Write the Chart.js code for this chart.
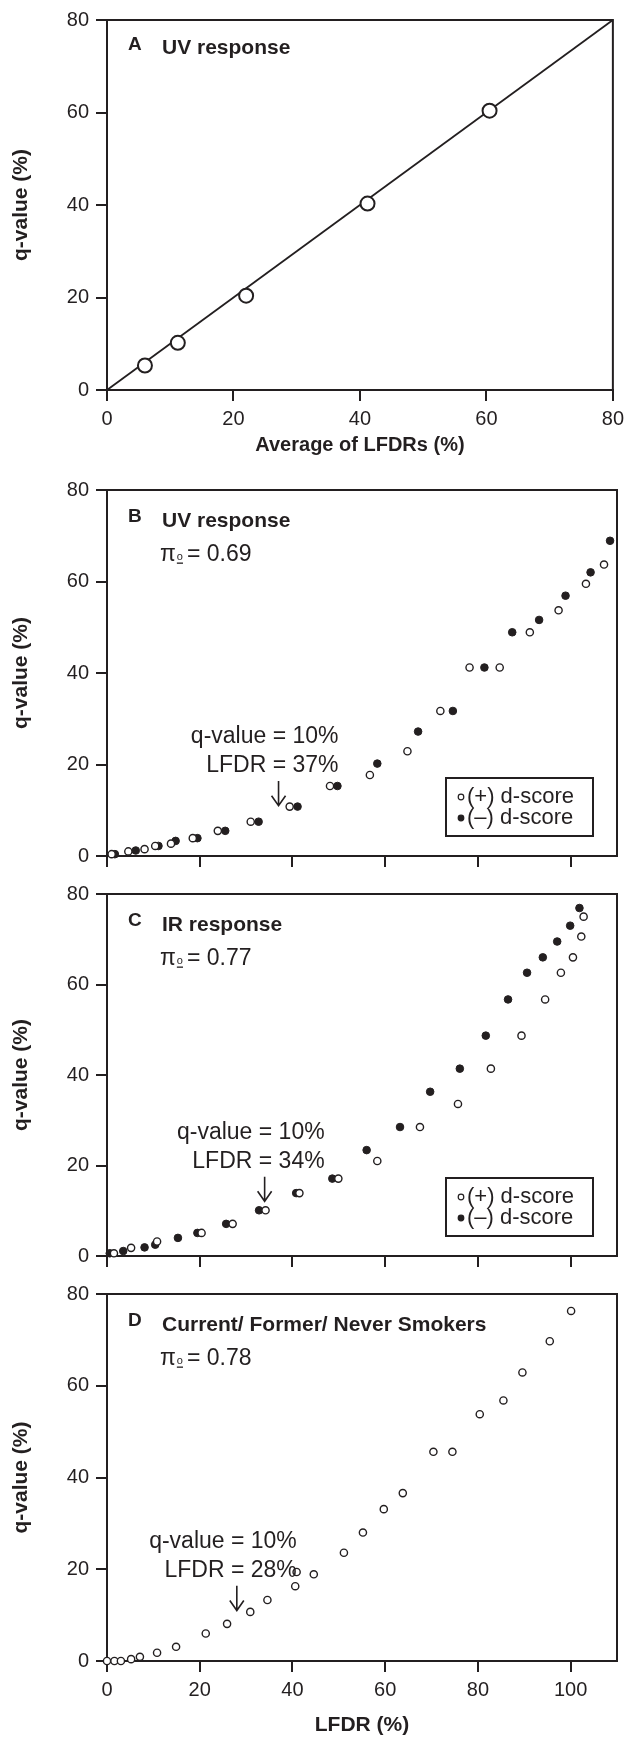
<!DOCTYPE html>
<html>
<head>
<meta charset="utf-8">
<title>q-value vs LFDR</title>
<script src="https://cdn.jsdelivr.net/npm/chart.js@4.4.0/dist/chart.umd.min.js"></script>
<style>
    body { margin: 0; background: #fff; }
    #wrap { position: relative; width: 630px; height: 1738px; }
    #wrap canvas { position: absolute; left: 0; }
</style>
</head>
<body>
<div id="wrap">
    <canvas id="chartA" width="630" height="460" style="top:0px"></canvas>
    <canvas id="chartB" width="630" height="415" style="top:460px"></canvas>
    <canvas id="chartC" width="630" height="400" style="top:875px"></canvas>
    <canvas id="chartD" width="630" height="463" style="top:1275px"></canvas>
</div>
<script>
/* ---------------------------------------------------------------------------------------- */
/* DATA                                                                                     */
/* ---------------------------------------------------------------------------------------- */

    // A - UV response, q-value against average of LFDRs
    var aLfdr  = [6.0, 11.2, 22.0, 41.2, 60.5];
    var aQval  = [5.3, 10.2, 20.4, 40.3, 60.4];
    var aLineX = [0, 80];
    var aLineY = [0, 80];

    // B - UV response
    var bPosX = [1.0, 4.6, 8.1, 10.4, 13.8, 18.5, 23.9, 31.0, 39.4, 48.1, 56.7, 64.8, 71.9, 78.2, 84.7, 91.2, 97.4, 103.3, 107.2];
    var bPosY = [0.4, 1.0, 1.5, 2.2, 2.7, 3.9, 5.5, 7.5, 10.8, 15.3, 17.7, 22.9, 31.7, 41.2, 41.2, 48.9, 53.7, 59.5, 63.7];
    var bNegX = [1.7, 6.2, 11.1, 14.8, 19.5, 25.5, 32.7, 41.1, 49.7, 58.3, 67.1, 74.6, 81.4, 87.4, 93.2, 98.9, 104.3, 108.5];
    var bNegY = [0.4, 1.2, 2.2, 3.3, 3.9, 5.5, 7.5, 10.8, 15.3, 20.2, 27.2, 31.7, 41.2, 48.9, 51.6, 56.9, 62.0, 68.9];

    // C - IR response
    var cPosX = [1.5, 5.2, 10.8, 20.4, 27.1, 34.2, 41.5, 49.9, 58.3, 67.5, 75.7, 82.8, 89.4, 94.5, 97.9, 100.5, 102.3, 102.8];
    var cPosY = [0.6, 1.8, 3.2, 5.1, 7.1, 10.1, 13.9, 17.1, 21.0, 28.5, 33.6, 41.4, 48.7, 56.7, 62.6, 66.0, 70.6, 75.0];
    var cNegX = [0.6, 3.5, 8.1, 10.4, 15.3, 19.5, 25.7, 32.8, 40.8, 48.6, 56.0, 63.2, 69.7, 76.1, 81.7, 86.5, 90.6, 94.0, 97.1, 99.9, 101.9];
    var cNegY = [0.6, 1.1, 1.9, 2.5, 4.0, 5.1, 7.1, 10.1, 13.9, 17.1, 23.4, 28.5, 36.3, 41.4, 48.7, 56.7, 62.6, 66.0, 69.5, 73.0, 76.9];

    // D - current / former / never smokers
    var dX = [0, 1.6, 3.0, 5.2, 7.1, 10.8, 14.9, 21.3, 25.9, 30.9, 34.6, 40.6, 40.9, 44.6, 51.1, 55.2, 59.7, 63.8, 70.4, 74.5, 80.4, 85.5, 89.6, 95.5, 100.1];
    var dY = [0, 0, 0, 0.4, 0.9, 1.8, 3.1, 6.0, 8.1, 10.7, 13.3, 16.3, 19.4, 18.9, 23.6, 28.0, 33.1, 36.6, 45.6, 45.6, 53.8, 56.8, 62.9, 69.7, 76.3];

    var yTicks   = [0, 20, 40, 60, 80];
    var xTicksA  = [0, 20, 40, 60, 80];
    var xTicksBD = [0, 20, 40, 60, 80, 100];

/* ---------------------------------------------------------------------------------------- */
/* STYLE                                                                                    */
/* ---------------------------------------------------------------------------------------- */

    var INK    = '#231f20';
    var FAMILY = '"Liberation Sans", Arial, Helvetica, sans-serif';

    Chart.defaults.font.family = FAMILY;
    Chart.defaults.color = INK;

    function pts(xs, ys){
        var out = [];
        for(let i = 0; i < xs.length; i++){
            out.push({ x: xs[i], y: ys[i] });
        }
        return out;
    }

/* ---------------------------------------------------------------------------------------- */
/* PANEL TEXT / FRAME PLUGIN                                                                */
/* ---------------------------------------------------------------------------------------- */

    function drawArrow(ctx, x, y1, y2){
        ctx.beginPath();
        ctx.moveTo(x, y1);
        ctx.lineTo(x, y2);
        ctx.moveTo(x - 7, y2 - 10);
        ctx.lineTo(x, y2);
        ctx.lineTo(x + 7, y2 - 10);
        ctx.stroke();
    }

    function drawPi(ctx, x, y, value){
        ctx.textAlign = 'left';
        ctx.textBaseline = 'alphabetic';
        ctx.font = '23px ' + FAMILY;
        ctx.fillText('\u03c0', x, y);
        var w = ctx.measureText('\u03c0').width;
        ctx.font = '11px ' + FAMILY;
        ctx.fillText('o', x + w + 1, y - 1);
        var ow = ctx.measureText('o').width;
        ctx.fillRect(x + w + 1, y + 1.5, ow, 1.3);
        ctx.font = '23px ' + FAMILY;
        ctx.fillText('= ' + value, x + w + ow + 5, y);
    }

    var panelPlugin = {
        id: 'panelText',
        beforeDatasetsDraw: function(chart){
            var a = chart.chartArea, ctx = chart.ctx;
            ctx.save();
            ctx.strokeStyle = INK;
            ctx.lineWidth = 2;
            ctx.strokeRect(a.left, a.top, a.right - a.left, a.bottom - a.top);
            ctx.restore();
        },
        afterDraw: function(chart, args, opts){
            var a = chart.chartArea, ctx = chart.ctx;
            var xs = chart.scales.x, ys = chart.scales.y;
            ctx.save();
            ctx.fillStyle = INK;
            ctx.strokeStyle = INK;
            ctx.textAlign = 'left';
            ctx.textBaseline = 'alphabetic';

            ctx.font = 'bold 19px ' + FAMILY;
            ctx.fillText(opts.letter, a.left + 21, a.top + opts.letterDy);
            ctx.font = 'bold 21px ' + FAMILY;
            ctx.fillText(opts.title, a.left + 55, a.top + opts.titleDy);

            if(opts.pi){
                drawPi(ctx, a.left + 53, a.top + 71, opts.pi);
            }

            if(opts.cutLfdr){
                var ax = xs.getPixelForValue(opts.cutLfdr);
                var y1 = ys.getPixelForValue(opts.arrowFrom);
                var y2 = ys.getPixelForValue(opts.arrowTo);
                ctx.lineWidth = 1.6;
                drawArrow(ctx, ax, y1, y2);
                ctx.font = '23px ' + FAMILY;
                ctx.textAlign = 'right';
                ctx.textBaseline = 'middle';
                ctx.fillText('q-value = ' + opts.cutQ + '%', ax + 60, y1 - 44);
                ctx.fillText('LFDR = ' + opts.cutLfdr + '%', ax + 60, y1 - 15);
            }

            if(opts.legend){
                var bw = 147, bh = 58;
                var bx = a.right - 24 - bw, by = a.bottom - 20 - bh;
                ctx.lineWidth = 2;
                ctx.strokeRect(bx, by, bw, bh);
                ctx.font = '22px ' + FAMILY;
                ctx.textAlign = 'left';
                ctx.textBaseline = 'middle';
                var sets = chart.data.datasets;
                for(let i = 0; i < sets.length; i++){
                    var ry = by + 19 + i * 21;
                    ctx.beginPath();
                    ctx.arc(bx + 15, ry, 2.8, 0, Math.PI * 2);
                    ctx.fillStyle = sets[i].backgroundColor;
                    ctx.fill();
                    ctx.lineWidth = 1.2;
                    ctx.stroke();
                    ctx.fillStyle = INK;
                    ctx.fillText(sets[i].label, bx + 21, ry);
                }
            }
            ctx.restore();
        }
    };

/* ---------------------------------------------------------------------------------------- */
/* CHART OPTIONS                                                                            */
/* ---------------------------------------------------------------------------------------- */

    function buildOptions(cfg){
        return {
            responsive: false,
            animation: false,
            events: [],
            layout: { padding: { top: cfg.padTop, right: 13, left: 0, bottom: 0 } },
            plugins: {
                legend: { display: false },
                tooltip: { enabled: false },
                panelText: cfg.text
            },
            scales: {
                x: {
                    type: 'linear',
                    min: 0,
                    max: cfg.xMax,
                    afterFit: function(scale){ scale.height = cfg.xHeight; },
                    afterBuildTicks: function(scale){
                        scale.ticks = cfg.xTicks.map(function(v){ return { value: v }; });
                    },
                    grid: { drawOnChartArea: false, drawTicks: true, tickLength: 11, color: INK, lineWidth: 2 },
                    border: { display: true, color: INK, width: 2 },
                    ticks: {
                        display: cfg.xLabels,
                        autoSkip: false,
                        maxRotation: 0,
                        padding: 6,
                        color: INK,
                        font: { size: 20 }
                    },
                    title: {
                        display: !!cfg.xTitle,
                        text: cfg.xTitle || '',
                        color: INK,
                        font: { size: cfg.xTitleSize || 21, weight: 'bold' },
                        padding: { top: 0, bottom: cfg.xTitlePad }
                    }
                },
                y: {
                    type: 'linear',
                    min: 0,
                    max: 80,
                    afterFit: function(scale){ scale.width = 107; },
                    afterBuildTicks: function(scale){
                        scale.ticks = yTicks.map(function(v){ return { value: v }; });
                    },
                    grid: { drawOnChartArea: false, drawTicks: true, tickLength: 11, color: INK, lineWidth: 2 },
                    border: { display: true, color: INK, width: 2 },
                    ticks: { autoSkip: false, padding: 7, color: INK, font: { size: 20 } },
                    title: {
                        display: true,
                        text: 'q-value (%)',
                        color: INK,
                        font: { size: 21, weight: 'bold' },
                        padding: { top: 9, bottom: 0 }
                    }
                }
            }
        };
    }

    function openPoints(label, data, r){
        return {
            label: label, data: data, clip: false,
            pointStyle: 'circle', pointRadius: r, pointBorderWidth: r > 5 ? 2 : 1.4,
            backgroundColor: '#ffffff', borderColor: INK,
            pointBackgroundColor: '#ffffff', pointBorderColor: INK, showLine: false
        };
    }

    function filledPoints(label, data, r){
        return {
            label: label, data: data, clip: false,
            pointStyle: 'circle', pointRadius: r, pointBorderWidth: 1,
            backgroundColor: INK, borderColor: INK,
            pointBackgroundColor: INK, pointBorderColor: INK, showLine: false
        };
    }

/* ---------------------------------------------------------------------------------------- */
/* DRAW                                                                                     */
/* ---------------------------------------------------------------------------------------- */

    new Chart(document.getElementById('chartA'), {
        type: 'scatter',
        data: {
            datasets: [
                openPoints('UV response', pts(aLfdr, aQval), 7),
                {
                    label: 'identity', data: pts(aLineX, aLineY), type: 'line',
                    borderColor: INK, borderWidth: 1.8, pointRadius: 0, fill: false, clip: false
                }
            ]
        },
        options: buildOptions({
            padTop: 20, xHeight: 70, xMax: 80, xTicks: xTicksA, xLabels: true,
            xTitle: 'Average of LFDRs (%)', xTitleSize: 20, xTitlePad: 3,
            text: { letter: 'A', title: 'UV response', letterDy: 30, titleDy: 34 }
        }),
        plugins: [panelPlugin]
    });

    new Chart(document.getElementById('chartB'), {
        type: 'scatter',
        data: {
            datasets: [
                openPoints('(+) d-score', pts(bPosX, bPosY), 3.6),
                filledPoints('(\u2013) d-score', pts(bNegX, bNegY), 3.8)
            ]
        },
        options: buildOptions({
            padTop: 30, xHeight: 14, xMax: 110, xTicks: xTicksBD, xLabels: false,
            text: { letter: 'B', title: 'UV response', letterDy: 32, titleDy: 37, pi: '0.69',
                    cutLfdr: 37, cutQ: 10, arrowFrom: 16.4, arrowTo: 11.0, legend: true }
        }),
        plugins: [panelPlugin]
    });

    new Chart(document.getElementById('chartC'), {
        type: 'scatter',
        data: {
            datasets: [
                openPoints('(+) d-score', pts(cPosX, cPosY), 3.6),
                filledPoints('(\u2013) d-score', pts(cNegX, cNegY), 3.8)
            ]
        },
        options: buildOptions({
            padTop: 16, xHeight: 14, xMax: 110, xTicks: xTicksBD, xLabels: false,
            text: { letter: 'C', title: 'IR response', letterDy: 32, titleDy: 37, pi: '0.77',
                    cutLfdr: 34, cutQ: 10, arrowFrom: 17.5, arrowTo: 12.1, legend: true }
        }),
        plugins: [panelPlugin]
    });

    new Chart(document.getElementById('chartD'), {
        type: 'scatter',
        data: {
            datasets: [
                openPoints('smokers', pts(dX, dY), 3.6)
            ]
        },
        options: buildOptions({
            padTop: 15, xHeight: 77, xMax: 110, xTicks: xTicksBD, xLabels: true,
            xTitle: 'LFDR (%)', xTitlePad: 0,
            text: { letter: 'D', title: 'Current/ Former/ Never Smokers', letterDy: 32, titleDy: 37, pi: '0.78',
                    cutLfdr: 28, cutQ: 10, arrowFrom: 16.4, arrowTo: 11.0 }
        }),
        plugins: [panelPlugin]
    });
</script>
</body>
</html>
